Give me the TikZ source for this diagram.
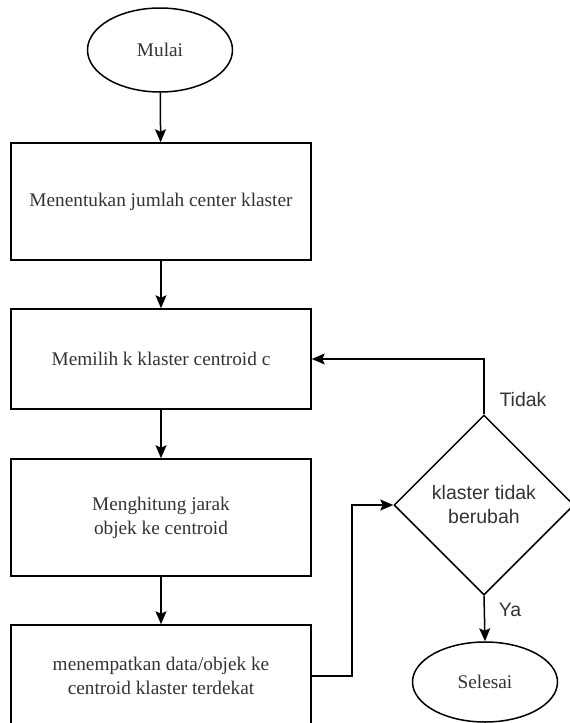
\documentclass[tikz,border=0pt]{standalone}
\usepackage{fontspec}
\setmainfont{Liberation Serif}
\newfontfamily\labelfont{Liberation Sans}
\usetikzlibrary{shapes.geometric,arrows.meta}
\definecolor{ink}{HTML}{333333}
\tikzset{
  flow/.style={line width=1.5pt, draw=black},
  stepbox/.style={flow, rectangle, minimum width=300pt, inner sep=0pt,
    align=center, text=ink, font=\fontsize{19.3}{24}\selectfont},
  terminal/.style={flow, ellipse, minimum width=145pt, minimum height=84pt,
    inner sep=0pt, text=ink, font=\fontsize{19.3}{24}\selectfont},
  decision/.style={flow, diamond, minimum width=180pt, minimum height=180pt,
    inner sep=0pt, align=center, text=ink,
    font=\labelfont\fontsize{19.5}{24}\selectfont},
  branch/.style={text=ink, font=\labelfont\fontsize{19.5}{24}\selectfont},
  link/.style={flow, -{Stealth[length=13pt, width=11pt, inset=2.5pt]}},
}
\begin{document}
\begin{tikzpicture}[x=1pt, y=-1pt]
  \useasboundingbox (0,0) rectangle (570,723);
  \fill[white] (0,0) rectangle (570,723);
  \clip (0,0) rectangle (570,723);

  % process column
  \node[terminal] (start) at (160,50) {Mulai};
  \node[stepbox, minimum height=117pt] (count) at (161,201.5)
    {Menentukan jumlah center klaster};
  \node[stepbox, minimum height=100pt] (pick) at (161,359)
    {Memilih k klaster centroid c};
  \node[stepbox, minimum height=117pt] (dist) at (161,517.5)
    {Menghitung jarak\\objek ke centroid};
  \node[stepbox, minimum height=102pt] (assign) at (161,676)
    {menempatkan data/objek ke\\centroid klaster terdekat};

  % decision and end
  \node[decision] (check) at (484,505) {klaster tidak\\berubah};
  \node[terminal, minimum height=80pt] (finish) at (485,682) {Selesai};

  % bend points of the loop connectors
  \coordinate (upturn) at (check.north |- pick.east);
  \coordinate (rise) at (352,0);

  \draw[link] (start) -- (count);
  \draw[link] (count) -- (pick);
  \draw[link] (pick) -- (dist);
  \draw[link] (dist) -- (assign);
  \draw[link] (assign.east) -- (rise |- assign.east) -- (rise |- check.west) -- (check.west);
  \draw[link] (check.north) -- (upturn) -- (pick.east);
  \draw[link] (check.south) -- (finish.north);

  \node[branch] (no) at (523,400) {Tidak};
  \node[branch] (yes) at (510,610) {Ya};
\end{tikzpicture}
\end{document}
